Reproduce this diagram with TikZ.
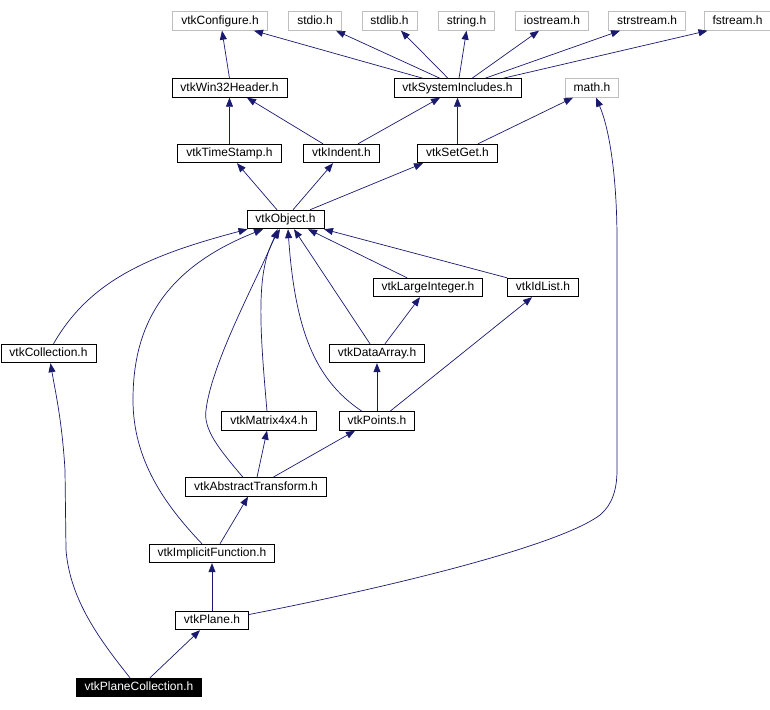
\documentclass[tikz,border=0pt]{standalone}
\usepackage{fontspec}
\setmainfont{Liberation Sans}
\usetikzlibrary{arrows.meta}
\definecolor{depblue}{HTML}{191970}
\definecolor{sysgray}{HTML}{BFBFBF}

\begin{document}
\begin{tikzpicture}[x=1pt, y=-1pt, font=\fontsize{12}{14}\selectfont,
  hdr/.style={draw=black, line width=0.9pt, fill=white, inner xsep=8.5pt, inner ysep=0pt,
    minimum height=18.5pt, text height=9pt, text depth=2.5pt},
  syshdr/.style={hdr, draw=sysgray},
  curhdr/.style={hdr, fill=black, text=white},
  dep/.style={-{Triangle[length=9pt,width=7pt]}, draw=depblue, line width=0.7pt}]
\useasboundingbox (0,0) rectangle (770,709);
% system headers
\node[syshdr] (conf) at (220,21) {vtkConfigure.h};
\node[syshdr] (stdio) at (315,21) {stdio.h};
\node[syshdr] (stdlib) at (389.5,21) {stdlib.h};
\node[syshdr] (string) at (466.5,21) {string.h};
\node[syshdr] (iostream) at (552,21) {iostream.h};
\node[syshdr] (strstream) at (647,21) {strstream.h};
\node[syshdr] (fstream) at (737.5,21) {fstream.h};
\node[syshdr] (math) at (592,88) {math.h};
% vtk headers
\node[hdr] (win32) at (229.5,88) {vtkWin32Header.h};
\node[hdr] (sysinc) at (457.5,88) {vtkSystemIncludes.h};
\node[hdr] (tstamp) at (229.5,153.5) {vtkTimeStamp.h};
\node[hdr] (indent) at (341.5,153.5) {vtkIndent.h};
\node[hdr] (setget) at (457.5,153.5) {vtkSetGet.h};
\node[hdr] (object) at (285.5,219.5) {vtkObject.h};
\node[hdr] (largeint) at (428,287.5) {vtkLargeInteger.h};
\node[hdr] (idlist) at (543,287.5) {vtkIdList.h};
\node[hdr] (collection) at (48.5,353.5) {vtkCollection.h};
\node[hdr] (dataarray) at (377,353.5) {vtkDataArray.h};
\node[hdr] (matrix) at (269,421) {vtkMatrix4x4.h};
\node[hdr] (points) at (377,421) {vtkPoints.h};
\node[hdr] (abstract) at (256,487) {vtkAbstractTransform.h};
\node[hdr] (implicit) at (212,553.5) {vtkImplicitFunction.h};
\node[hdr] (plane) at (212,620.5) {vtkPlane.h};
\node[curhdr] (planecoll) at (139,687.5) {vtkPlaneCollection.h};
% straight includes: child/shift/parent/shift
\foreach \a/\sa/\b/\sb in {
  win32/0/conf/2, sysinc/-34.5/conf/34, sysinc/-17.5/stdio/21,
  sysinc/-9.5/stdlib/11.5, sysinc/1.5/string/0, sysinc/14.5/iostream/-13,
  sysinc/27.5/strstream/-27, sysinc/45.5/fstream/-30,
  tstamp/0/win32/0, indent/-18.5/win32/17.5, indent/16.5/sysinc/-17.5,
  setget/0/sysinc/0, setget/20.5/math/-19,
  object/-8.5/tstamp/7.5, object/7.5/indent/-8.5, object/24.5/setget/-34.5,
  largeint/-21/object/22.5, idlist/-36/object/38.5, dataarray/-7/object/8.5,
  dataarray/8/largeint/-8, points/0/dataarray/0, points/13/idlist/-11,
  abstract/1/matrix/-2, abstract/17/points/-22, implicit/8/abstract/-8,
  plane/0/implicit/0, planecoll/11/plane/-12}
  \draw[dep] ([xshift=\sa pt]\a.north) -- ([xshift=\sb pt]\b.south);
% curved includes
\draw[dep] ([xshift=5pt]collection.north) .. controls (90,280) and (150,255) .. ([xshift=-38pt]object.south);
\draw[dep] ([xshift=-10pt]implicit.north) .. controls (165,505) and (133,460) .. (133,400)
  .. controls (133,330) and (160,270) .. ([xshift=-22.5pt]object.south);
\draw[dep] ([xshift=-13pt]abstract.north) .. controls (220,450) and (203,430) .. (206,410)
  .. controls (212,360) and (262,270) .. ([xshift=-8pt]object.south);
\draw[dep] ([xshift=-2pt]matrix.north) .. controls (260,330) and (255,270) .. ([xshift=-5.5pt]object.south);
\draw[dep] ([xshift=-15pt]points.north) .. controls (315,380) and (295,330) .. ([xshift=2.5pt]object.south);
\draw[dep] ([yshift=6pt]plane.east) .. controls (400,585) and (560,545) .. (600,515)
  .. controls (612,505) and (617,490) .. (617,470) -- (617,240)
  .. controls (617,180) and (610,130) .. ([xshift=4pt]math.south);
\draw[dep] ([xshift=-9pt]planecoll.north) .. controls (100,640) and (70,600) .. (66,550) -- (65,470)
  .. controls (62,420) and (55,390) .. ([xshift=2pt]collection.south);
\end{tikzpicture}
\end{document}
